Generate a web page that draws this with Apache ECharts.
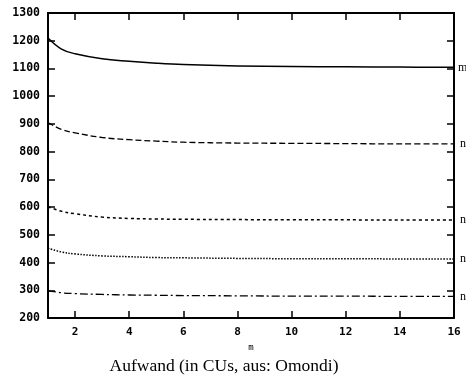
<!DOCTYPE html>
<html><head><meta charset="utf-8">
<script src="https://cdn.jsdelivr.net/npm/echarts@6/dist/echarts.min.js"></script>
<style>html,body{margin:0;padding:0;background:#fff}#c{width:466px;height:376px}</style>
</head><body><div id="c"></div>
<script>
const mValues = [1, 1.5, 2, 3, 4, 5, 6, 8, 10, 12, 14, 16];
const series1 = [1210, 1170, 1153, 1135, 1126, 1119, 1114, 1109, 1107, 1106, 1105, 1104];
const series2 = [905, 880, 868, 851, 843, 838, 834, 831, 830, 829, 828, 828];
const series3 = [601, 585, 576, 564, 559, 557, 556, 555, 554, 554, 553, 553];
const series4 = [452, 438, 431, 424, 421, 418, 417, 415, 414, 414, 413, 413];
const series5 = [299, 291, 288, 285, 283, 282, 281, 280, 279, 279, 278, 278];
const endLabels = ['m', 'n', 'n', 'n', 'n'];
const xTicks = [2, 4, 6, 8, 10, 12, 14, 16];
const titleText = 'Aufwand (in CUs, aus: Omondi)';
const xName = 'm';

const allSeries = [series1, series2, series3, series4, series5];
const dashes = ['solid', [6, 3], [3, 3], [1.5, 1.5], [8, 3, 2, 3]];
const widths = [1.5, 1.3, 1.5, 1.5, 1.3];

const chart = echarts.init(document.getElementById('c'));
const tickFont = {fontFamily: 'DejaVu Sans Mono', fontWeight: 'bold', fontSize: 11.5, color: '#000'};
const axLine = {show: true, onZero: false, lineStyle: {color: '#000', width: 2}};
chart.setOption({
  animation: false,
  backgroundColor: '#fff',
  title: {text: titleText, left: 219, textAlign: 'center', top: 352,
    textStyle: {fontFamily: 'Liberation Serif', fontWeight: 'normal', fontSize: 17.5, color: '#000'}},
  grid: {left: 48, right: 12, top: 13, bottom: 58},
  xAxis: [
    {type: 'value', min: 1, max: 16, position: 'bottom',
     name: xName, nameLocation: 'middle', nameGap: 21,
     nameTextStyle: {fontFamily: 'DejaVu Sans Mono', fontSize: 9, color: '#000'},
     axisLine: axLine, splitLine: {show: false},
     axisTick: {show: true, inside: true, length: 7, customValues: xTicks, lineStyle: {color: '#000', width: 1.5}},
     axisLabel: {show: true, customValues: xTicks, margin: 9, ...tickFont, fontSize: 11}},
    {type: 'value', min: 1, max: 16, position: 'top',
     axisLine: axLine, splitLine: {show: false},
     axisTick: {show: true, inside: true, length: 7, customValues: xTicks, lineStyle: {color: '#000', width: 1.5}},
     axisLabel: {show: false}}
  ],
  yAxis: [
    {type: 'value', min: 200, max: 1300, interval: 100, position: 'left',
     axisLine: axLine, splitLine: {show: false},
     axisTick: {show: true, inside: true, length: 7, lineStyle: {color: '#000', width: 1.5}},
     axisLabel: {show: true, margin: 8, formatter: v => String(v), ...tickFont}},
    {type: 'value', min: 200, max: 1300, interval: 100, position: 'right',
     axisLine: axLine, splitLine: {show: false},
     axisTick: {show: true, inside: true, length: 7, lineStyle: {color: '#000', width: 1.5}},
     axisLabel: {show: false}}
  ],
  series: allSeries.map((s, i) => ({
    type: 'line', xAxisIndex: 0, yAxisIndex: 0, smooth: 0.4, symbol: 'none',
    data: mValues.map((m, j) => [m, s[j]]),
    lineStyle: {color: '#000', width: widths[i], type: dashes[i]},
    endLabel: {show: true, formatter: endLabels[i] + '=' + (i + 1), distance: i === 0 ? 4 : 6,
      fontFamily: 'Liberation Serif', fontSize: 12, color: '#000'}
  }))
});
</script></body></html>
